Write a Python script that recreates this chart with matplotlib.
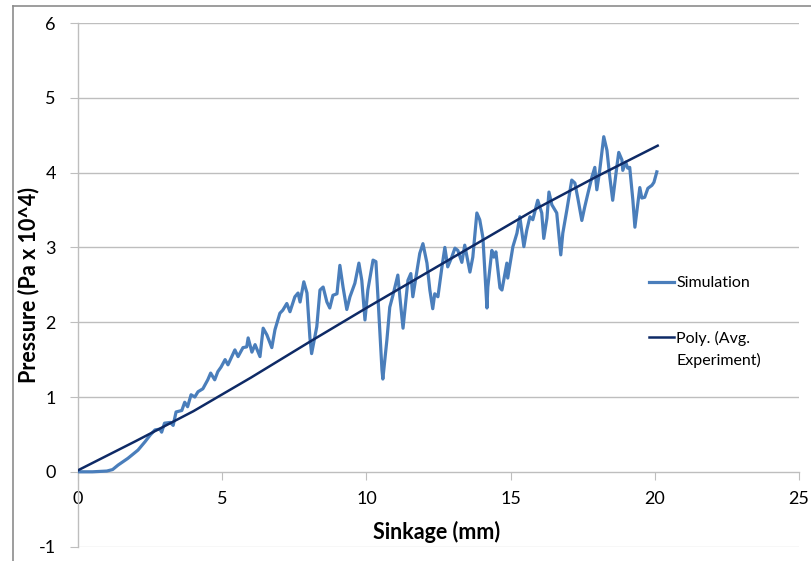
import matplotlib
matplotlib.use("Agg")
import matplotlib.pyplot as plt
from matplotlib.lines import Line2D

plt.rcParams['font.family'] = ['Lato', 'DejaVu Sans']
plt.rcParams['axes.unicode_minus'] = False

# simulation curve
sim_x = [0.0, 0.5, 1.0, 1.2, 1.39, 1.73, 2.08, 2.32, 2.5, 2.67, 2.84, 2.9, 3.0, 3.2, 3.3,
         3.4, 3.6, 3.7, 3.8, 3.92, 4.05, 4.16, 4.33, 4.5, 4.6, 4.74, 4.85, 4.96, 5.1, 5.2,
         5.44, 5.55, 5.72, 5.85, 5.9, 6.03, 6.14, 6.31, 6.42, 6.55, 6.72, 6.83, 7.0, 7.1,
         7.24, 7.35, 7.52, 7.63, 7.7, 7.83, 7.94, 8.04, 8.1, 8.28, 8.39, 8.5, 8.63, 8.73,
         8.84, 8.98, 9.08, 9.19, 9.32, 9.43, 9.6, 9.74, 9.84, 9.95, 10.05, 10.23, 10.33,
         10.4, 10.54, 10.57, 10.71, 10.81, 10.92, 11.09, 11.16, 11.27, 11.44, 11.54, 11.61,
         11.85, 11.96, 12.1, 12.2, 12.3, 12.37, 12.48, 12.62, 12.72, 12.82, 12.96, 13.07,
         13.17, 13.31, 13.41, 13.59, 13.69, 13.83, 13.93, 14.04, 14.18, 14.21, 14.35, 14.42,
         14.49, 14.63, 14.7, 14.87, 14.9, 15.08, 15.22, 15.32, 15.46, 15.56, 15.67, 15.77,
         15.94, 16.08, 16.15, 16.26, 16.33, 16.43, 16.6, 16.74, 16.81, 16.95, 17.12, 17.23,
         17.33, 17.47, 17.57, 17.68, 17.82, 17.92, 17.99, 18.09, 18.23, 18.34, 18.44, 18.54,
         18.68, 18.75, 18.86, 18.89, 18.99, 19.06, 19.13, 19.24, 19.31, 19.48, 19.55, 19.65,
         19.76, 19.9, 19.97, 20.07]
sim_y = [0.00, 0.00, 0.01, 0.03, 0.09, 0.18, 0.29, 0.40, 0.49, 0.56, 0.57, 0.53, 0.65, 0.66, 0.62,
         0.80, 0.82, 0.93, 0.87, 1.03, 1.00, 1.07, 1.11, 1.23, 1.32, 1.23, 1.34, 1.40, 1.50, 1.43,
         1.63, 1.54, 1.66, 1.67, 1.79, 1.60, 1.70, 1.54, 1.92, 1.83, 1.66, 1.90, 2.12, 2.16,
         2.25, 2.14, 2.34, 2.39, 2.27, 2.54, 2.39, 1.80, 1.58, 1.94, 2.43, 2.47, 2.27, 2.19,
         2.36, 2.38, 2.76, 2.47, 2.17, 2.34, 2.52, 2.79, 2.56, 2.03, 2.43, 2.83, 2.81,
         2.34, 1.36, 1.24, 1.76, 2.20, 2.36, 2.63, 2.34, 1.92, 2.56, 2.65, 2.34,
         2.92, 3.05, 2.79, 2.43, 2.18, 2.38, 2.34, 2.74, 3.00, 2.74, 2.87, 2.99,
         2.96, 2.80, 3.03, 2.67, 2.87, 3.46, 3.37, 3.13, 2.19, 2.47, 2.96, 2.87,
         2.94, 2.46, 2.43, 2.79, 2.59, 3.01, 3.19, 3.41, 3.01, 3.23, 3.41, 3.37,
         3.63, 3.46, 3.12, 3.39, 3.74, 3.57, 3.46, 2.90, 3.19, 3.50, 3.90, 3.86,
         3.66, 3.36, 3.54, 3.72, 3.94, 4.07, 3.77, 4.03, 4.48, 4.30, 3.94, 3.63,
         4.07, 4.27, 4.17, 4.03, 4.14, 4.06, 4.07, 3.63, 3.27, 3.80, 3.66, 3.67,
         3.79, 3.83, 3.87, 4.01]

# polynomial trendline of the averaged experiment (sampled)
poly_x = [0, 2, 4, 6, 8, 10, 12, 14, 16, 18, 20.1]
poly_y = [0.02, 0.41, 0.81, 1.26, 1.73, 2.19, 2.64, 3.09, 3.54, 3.95, 4.36]

x_ticks = [0, 5, 10, 15, 20, 25]
y_ticks = [-1, 0, 1, 2, 3, 4, 5, 6]

fig = plt.figure(figsize=(8.12, 5.61), dpi=100)
ax = fig.add_axes([78 / 812, 1 - 546.6 / 561, 721 / 812, 523.6 / 561])

ax.plot(sim_x, sim_y, color='#4A7EBB', lw=2.3, label='Simulation', zorder=3,
        solid_joinstyle='round')
ax.plot(poly_x, poly_y, color='#0E2A66', lw=1.8, label='Poly. (Avg.', zorder=4)

ax.set_xlim(0, 25)
ax.set_ylim(-1, 6)
ax.set_xticks(x_ticks)
ax.set_yticks(y_ticks)

grid_c = '#BEBEBE'
for t in y_ticks:
    if t != 0:
        ax.axhline(t, color=grid_c if t != -1 else '#D9D9D9', lw=1.0, zorder=1)

for s in ['top', 'right']:
    ax.spines[s].set_visible(False)
ax.spines['left'].set_color(grid_c)
ax.spines['bottom'].set_color(grid_c)
ax.spines['bottom'].set_position(('data', 0))
ax.spines['left'].set_linewidth(1.0)
ax.spines['bottom'].set_linewidth(1.0)

ax.tick_params(axis='x', direction='out', length=6, color=grid_c, pad=8, labelsize=13)
ax.tick_params(axis='y', direction='out', length=6, color=grid_c, pad=10, labelsize=13)

fig.text(437 / 812, 1 - 532 / 561, 'Sinkage (mm)', ha='center', va='center',
         fontsize=15.5, fontweight='bold')
fig.text(29 / 812, 1 - 285 / 561, 'Pressure (Pa x 10^4)', ha='center', va='center',
         rotation=90, fontsize=15.5, fontweight='bold')

leg = ax.legend(loc='upper left', bbox_to_anchor=(641 / 812, 1 - 268 / 561),
                bbox_transform=fig.transFigure, frameon=False, fontsize=11.5,
                handlelength=1.55, handletextpad=0.15, labelspacing=2.55, borderpad=0)

# second line of the trendline label, under the first one
fig.canvas.draw()
bb = leg.get_texts()[1].get_window_extent()
fig.text(bb.x0 / 812, (bb.y0 - 22) / 561, 'Experiment)', fontsize=11.5, ha='left', va='bottom')

# outer chart border (left and top edges visible)
fig.add_artist(Line2D([13 / 812, 13 / 812], [0, 1 - 6 / 561], color='#8C8C8C', lw=1.2,
                      transform=fig.transFigure))
fig.add_artist(Line2D([13 / 812, 1], [1 - 6 / 561, 1 - 6 / 561], color='#8C8C8C', lw=1.2,
                      transform=fig.transFigure))

fig.savefig('out.png', dpi=100)
